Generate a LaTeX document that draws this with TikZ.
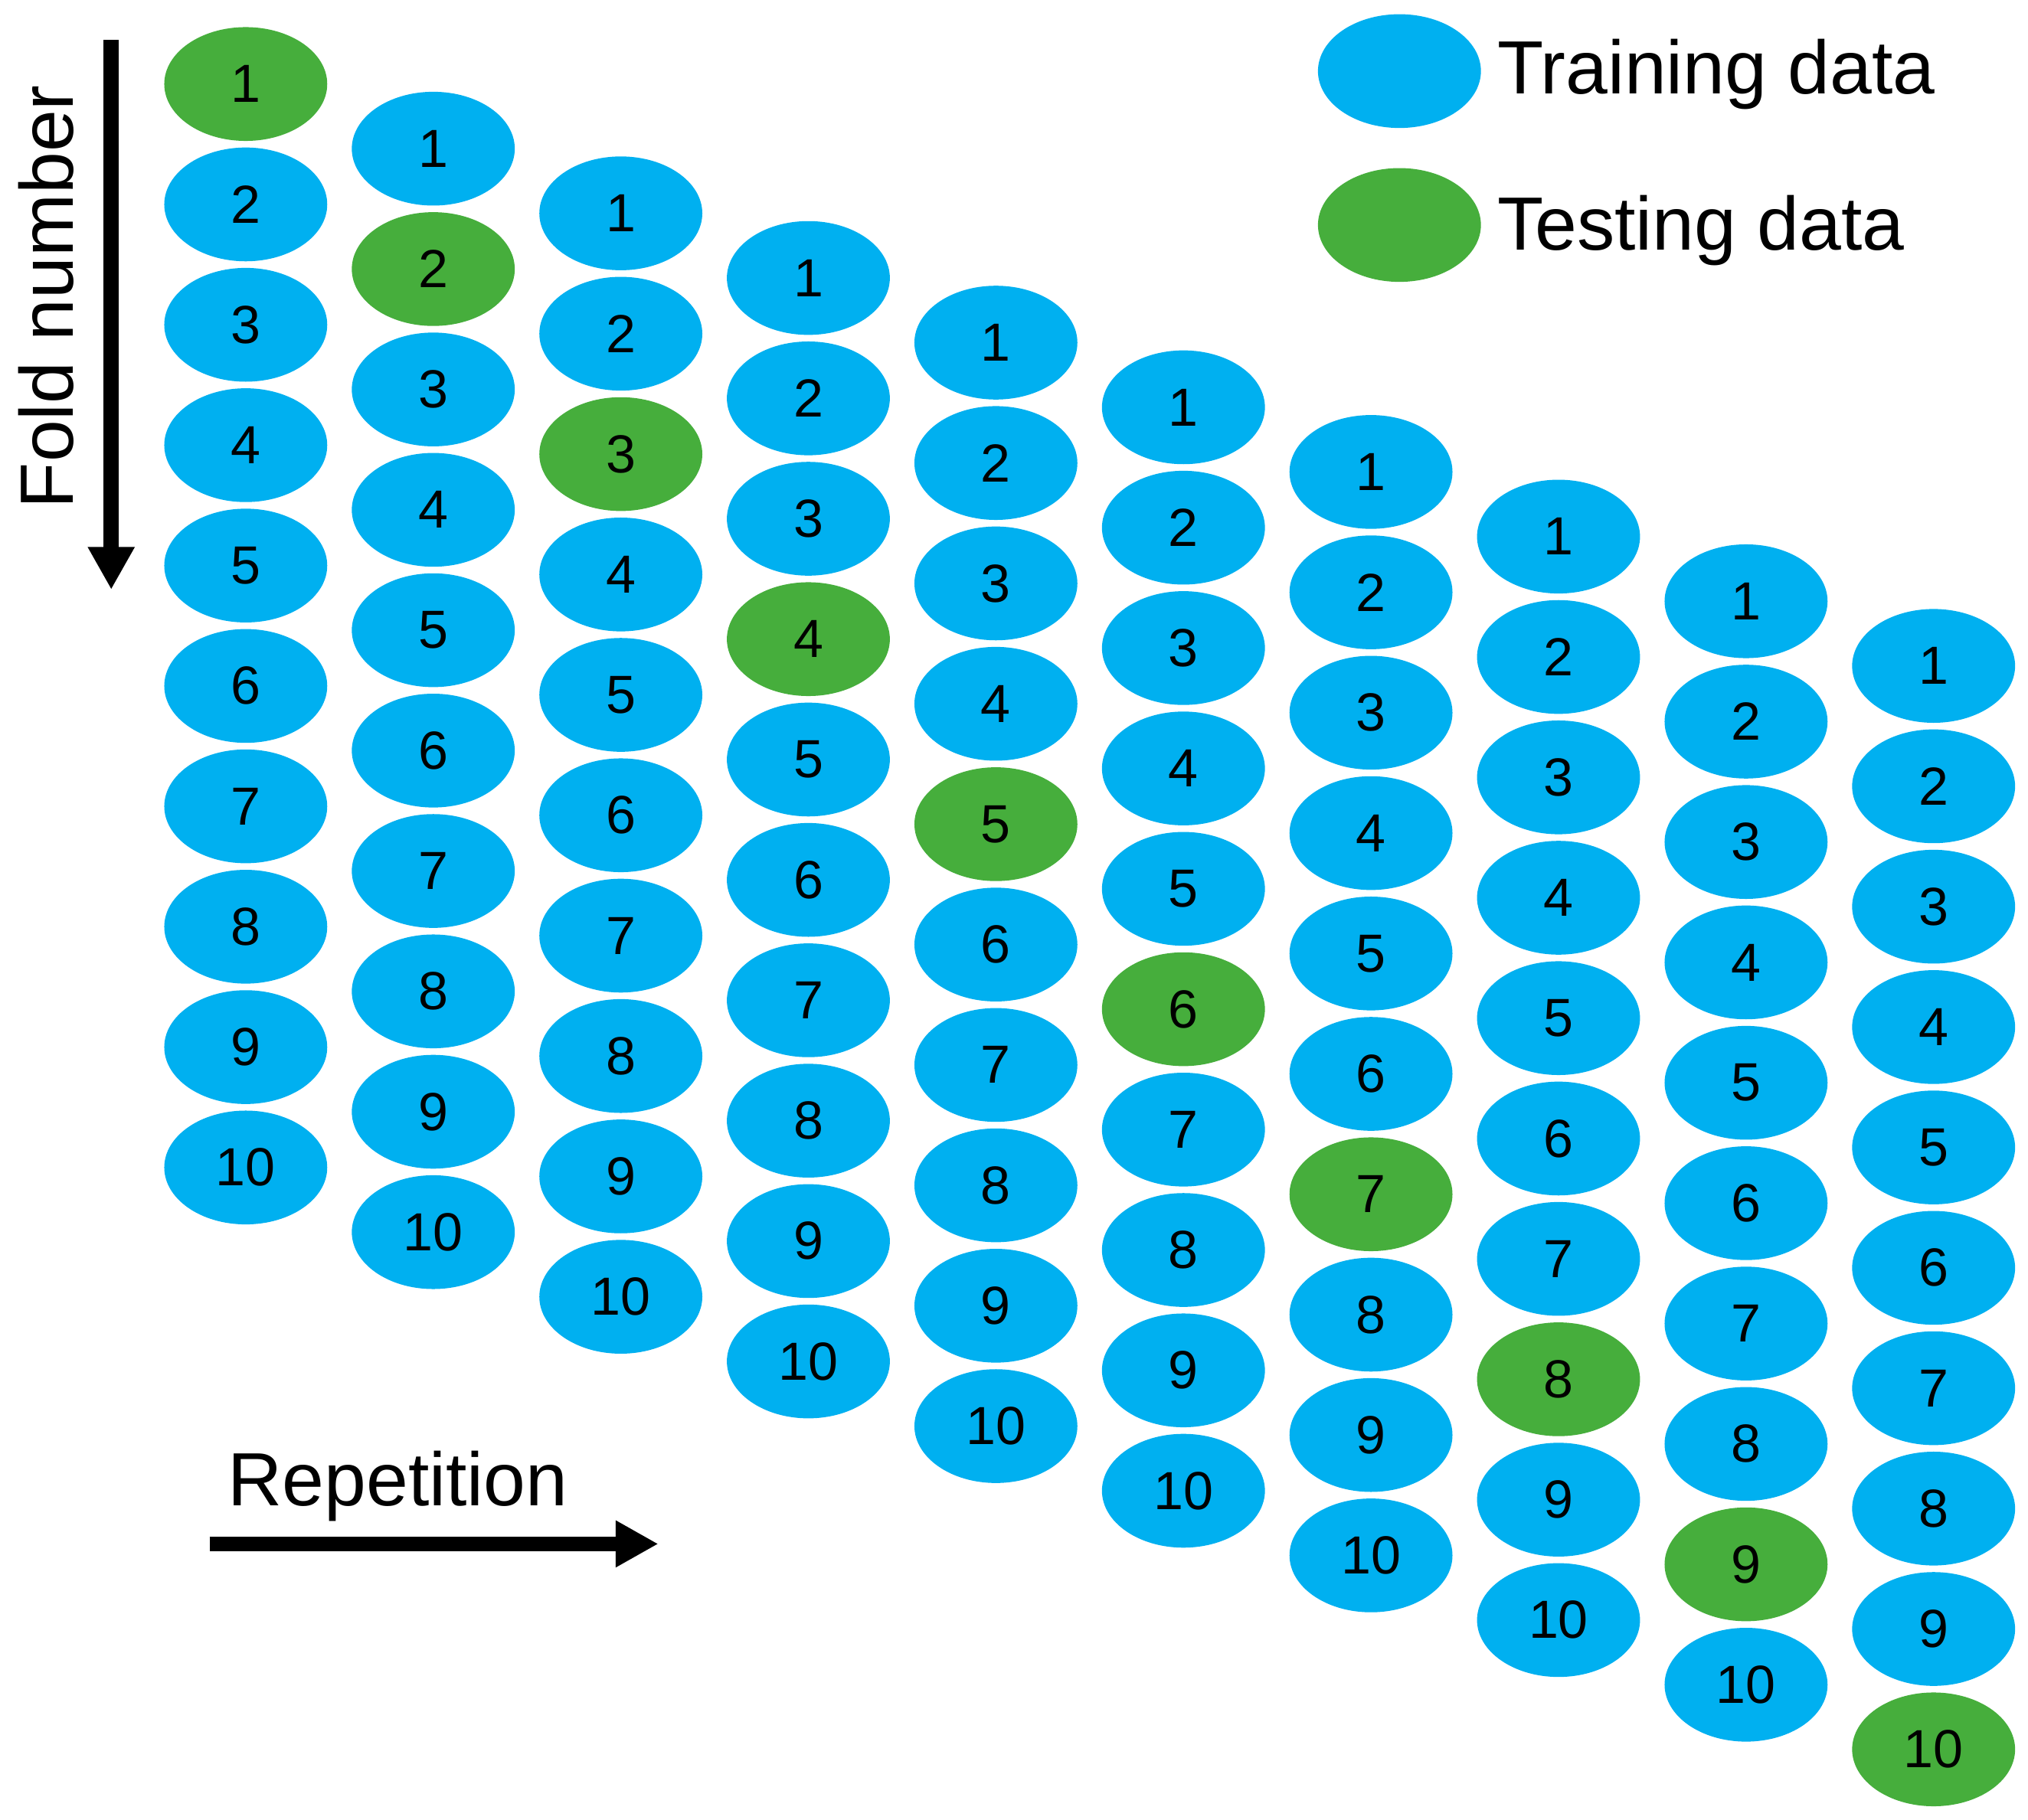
\documentclass[tikz,border=0pt]{standalone}
\usepackage{fontspec}
\setmainfont{Liberation Sans}
\usetikzlibrary{shapes.geometric,arrows.meta}
\definecolor{traincol}{RGB}{0,176,240}
\definecolor{testcol}{RGB}{70,174,60}

\begin{document}
\begin{tikzpicture}[fold/.style={ellipse, minimum width=1.26cm, minimum height=0.88cm, inner sep=0pt, font=\fontsize{11.8}{14}\selectfont}, biglabel/.style={font=\fontsize{16.6}{19}\selectfont, inner sep=0pt}, bigarrow/.style={line width=0.116cm, -{Triangle[width=0.34cm,length=0.33cm]}}]
\useasboundingbox (0,0) rectangle (15.68,-14.07);
% the ten repetitions, one column each
\foreach \c in {1,...,10} {
  \foreach \r in {1,...,10} {
    \pgfmathsetmacro\px{1.90+1.45*(\c-1)}
    \pgfmathsetmacro\py{-0.65-0.50*(\c-1)-0.931*(\r-1)}
    \def\foldcol{traincol}
    \ifnum\r=\c \def\foldcol{testcol}\fi
    \node[fold, fill=\foldcol] (rep\c-fold\r) at (\px,\py) {\r};
  }
}
% legend
\node[fold, fill=traincol] (keytrain) at (10.82,-0.55) {};
\node[fold, fill=testcol] (keytest) at (10.82,-1.74) {};
\node[biglabel, anchor=base west] (keytraintext) at (11.57,-0.726) {Training data};
\node[biglabel, anchor=base west] (keytesttext) at (11.57,-1.934) {Testing data};
% axes
\coordinate (foldtop) at (0.86,-0.31);
\coordinate (foldend) at (0.86,-4.56);
\draw[bigarrow] (foldtop) -- (foldend);
\node[biglabel, rotate=90, anchor=base west] (foldtext) at (0.568,-3.94) {Fold number};
\coordinate (repstart) at (1.62,-11.94);
\coordinate (repend) at (5.09,-11.94);
\draw[bigarrow] (repstart) -- (repend);
\node[biglabel, anchor=base west] (reptext) at (1.755,-11.645) {Repetition};
\end{tikzpicture}
\end{document}
